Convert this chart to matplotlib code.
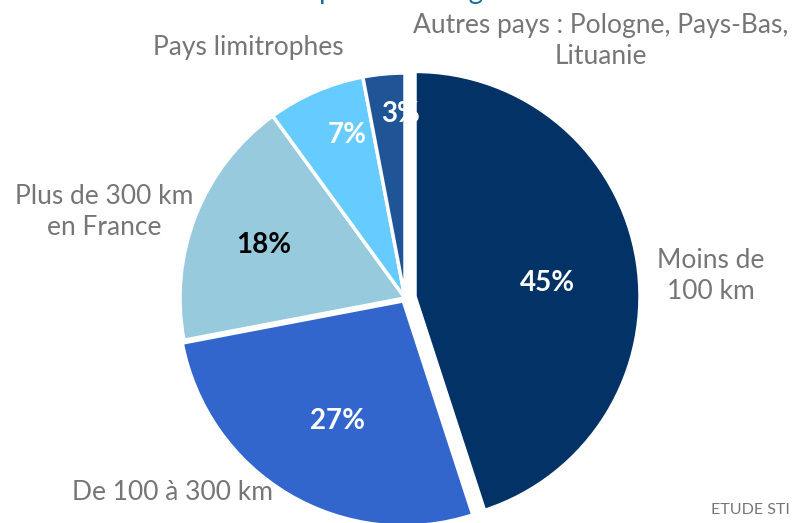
import matplotlib
matplotlib.use("Agg")
import matplotlib.pyplot as plt
import numpy as np

plt.rcParams["font.family"] = ["Lato", "DejaVu Sans"]

# Données
categories = ["Moins de\n100 km", "De 100 à 300 km", "Plus de 300 km\nen France",
              "Pays limitrophes", "Autres pays : Pologne, Pays-Bas,\nLituanie"]
valeurs = [45, 27, 18, 7, 3]
couleurs = ["#033366", "#3366CC", "#96CADC", "#66CCFF", "#1F5597"]
couleurs_pct = ["white", "white", "black", "white", "white"]

W, H = 796, 523
fig = plt.figure(figsize=(W / 100, H / 100), dpi=100)

# axe du camembert : centre (405, 298) px, rayon 225 px
cx, cy, r = 405, 298, 225
ax = fig.add_axes([(cx - r) / W, (H - cy - r) / H, 2 * r / W, 2 * r / H])

explode = [0.045, 0.015, 0, 0, 0]
wedges, textes, pcts = ax.pie(valeurs, colors=couleurs, startangle=90, counterclock=False,
                              explode=explode, radius=1, autopct="%d%%",
                              wedgeprops=dict(edgecolor="white", linewidth=2.5),
                              textprops=dict(fontsize=20, fontweight="bold"))
# pie() remet les limites à +-1.25, on les refixe après
ax.set_xlim(-1, 1)
ax.set_ylim(-1, 1)
ax.axis("off")
for w in wedges:
    w.set_clip_on(False)

# position des pourcentages (distance au centre, décalage angulaire)
dist_pct = [0.59, 0.61, 0.67, 0.77, 0.82]
decal_ang = [-3, 2, 1, -4, -4]
for w, t, d, da, c in zip(wedges, pcts, dist_pct, decal_ang, couleurs_pct):
    ang = np.deg2rad((w.theta1 + w.theta2) / 2 + da)
    ox, oy = w.center
    t.set_position((ox + d * np.cos(ang), oy + d * np.sin(ang)))
    t.set_color(c)

# étiquettes des catégories
pos_labels = [(711, 276), (172, 492), (104, 212), (248, 47), (601, 41)]
for lab, (x, y) in zip(categories, pos_labels):
    fig.text(x / W, 1 - y / H, lab, ha="center", va="center", fontsize=19,
             color="#767676", linespacing=1.3)

# titre (coupé en haut)
fig.text(408 / W, 1 + 1.5 / H, "Répartition des visiteurs\npour le collège", ha="center",
         va="baseline", fontsize=20, color="#1F6E9C")

fig.text(790 / W, 1 - 510 / H, "ETUDE STI", ha="right", va="center", fontsize=11.5,
         color="#767676")

fig.savefig("out.png", dpi=100)
